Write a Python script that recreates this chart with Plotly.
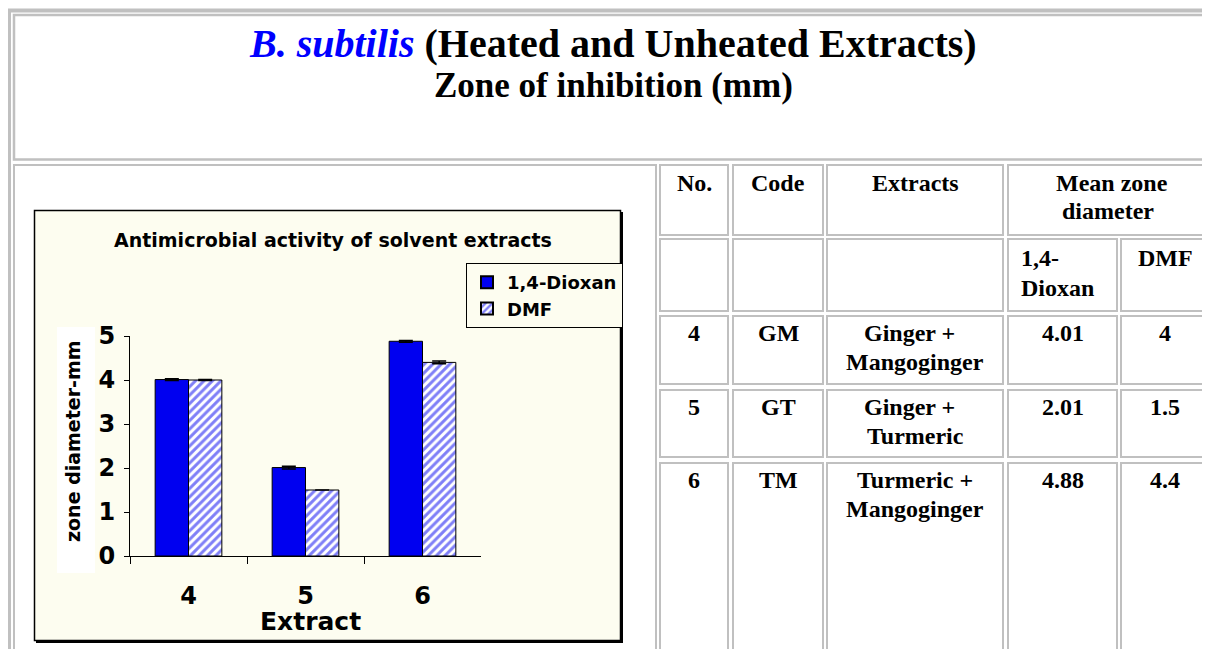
import plotly.graph_objects as go

# ---- data ----
extract_no = ["4", "5", "6"]
codes = ["GM", "GT", "TM"]
extract_names = [["Ginger +", "Mangoginger"], ["Ginger +", "Turmeric"], ["Turmeric +", "Mangoginger"]]
dioxan = [4.01, 2.01, 4.88]
dmf = [4.0, 1.5, 4.4]
dioxan_err = [0.02, 0.03, 0.02]
dmf_err = [0.01, 0.0, 0.03]
series_names = ["1,4-Dioxan", "DMF"]

# page body has an 8px margin: figure fits the rest of the window
OFF = 8
W, H = 1210 - OFF, 649 - OFF
def X(p):
    return (p - OFF) / W
def Y(p):
    return 1 - (p - OFF) / H

BLUE = "#0000f0"
IVORY = "#fdfdf0"
GRAY = "#c0c0c0"
SANS = "DejaVu Sans"
SERIF = "Liberation Serif"

fig = go.Figure()
fig.add_trace(go.Bar(
    x=extract_no, y=dioxan, name=series_names[0],
    marker=dict(color=BLUE, line=dict(color="black", width=1)),
    error_y=dict(type="data", array=dioxan_err, color="black", thickness=1.5, width=7),
))
fig.add_trace(go.Bar(
    x=extract_no, y=dmf, name=series_names[1],
    marker=dict(color="white", line=dict(color="black", width=1),
                pattern=dict(shape="/", fgcolor=BLUE, bgcolor="white", size=6, solidity=0.5)),
    error_y=dict(type="data", array=dmf_err, color="black", thickness=1.5, width=7),
))

shapes = []
def rect(x0, y0, x1, y1, color=GRAY, width=2, fill=None, layer="below"):
    d = dict(type="rect", xref="paper", yref="paper", x0=X(x0), x1=X(x1), y0=Y(y1), y1=Y(y0),
             line=dict(color=color, width=width), layer=layer)
    if fill:
        d["fillcolor"] = fill
    if width == 0:
        d["line"] = dict(width=0)
    shapes.append(d)

# outer table frame
rect(9, 10.5, 1260, 700, width=4)
# title cell
rect(14, 15, 1240, 159.5, width=2.5)
# chart cell
rect(14, 165, 656, 700)
# table cells
cols = [(660, 728), (733, 823), (827, 1003)]
rows = [(165, 235), (239, 311), (316, 384), (390, 457), (463, 700)]
for (c0, c1) in cols:
    for (r0, r1) in rows:
        rect(c0, r0, c1, r1)
# mean zone diameter cells
rect(1008, 165, 1240, 235)
for (r0, r1) in rows[1:]:
    rect(1008, r0, 1117, r1)
    rect(1121, r0, 1240, r1)

# chart box with shadow
rect(36, 212, 623, 643, color="black", width=0, fill="black")
rect(34.5, 210.5, 620.5, 640.5, color="black", width=1.5, fill=IVORY)
# white rect behind y title
rect(57, 327, 95, 573, width=0, fill="white")

ann = []
def text(x, y, s, size, family=SERIF, anchor="center", color="black", angle=0):
    ann.append(dict(x=X(x), y=Y(y), xref="paper", yref="paper", text=s, showarrow=False,
                    xanchor=anchor, yanchor="middle", textangle=angle,
                    font=dict(family=family, size=size, color=color, weight="bold")))

# page title
text(613, 44, "<i><span style='color:#0000ff'>B. subtilis</span></i> (Heated and Unheated Extracts)", 40)
text(613, 86, "Zone of inhibition (mm)", 35)

# chart texts
text(333, 240, "Antimicrobial activity of solvent extracts", 19, family=SANS)
text(73, 441, "zone diameter-mm", 19, family=SANS, angle=-90)
text(310, 621, "Extract", 25, family=SANS)

# table texts
TS = 24
text(694, 183, "No.", TS)
text(778, 183, "Code", TS)
text(915, 183, "Extracts", TS)
text(1112, 183, "Mean zone", TS)
text(1108, 211, "diameter", TS)
text(1019, 258, "1,4-", TS, anchor="left")
text(1019, 288, "Dioxan", TS, anchor="left")
text(1136, 258, "DMF", TS, anchor="left")
row_tops = [333, 407, 480]
for i in range(3):
    y0 = row_tops[i]
    text(694, y0, extract_no[i], TS)
    text(778, y0, codes[i], TS)
    first = extract_names[i][0]
    text(909 if first.startswith("Ginger") else 915, y0, first, TS)
    text(915, y0 + 29, extract_names[i][1], TS)
    text(1063, y0, f"{dioxan[i]:g}", TS)
    text(1165, y0, f"{dmf[i]:g}", TS)

fig.update_layout(
    width=W, height=H, margin=dict(l=0, r=0, t=0, b=0, autoexpand=False),
    paper_bgcolor="white", plot_bgcolor="rgba(0,0,0,0)",
    barmode="group", bargap=0.43, bargroupgap=0,
    showlegend=True,
    legend=dict(x=X(466), y=Y(263), xanchor="left", yanchor="top",
                bgcolor=IVORY, bordercolor="black", borderwidth=1,
                font=dict(family=SANS, size=18, color="black", weight="bold"),
                itemsizing="constant", tracegroupgap=0),
    shapes=shapes, annotations=ann,
    xaxis=dict(domain=[X(130), X(481)], showline=True, linecolor="black", linewidth=1,
               ticks="outside", tickson="boundaries", ticklen=7, tickcolor="black",
               ticklabelstandoff=18, showgrid=False, zeroline=False, automargin=False,
               tickfont=dict(family=SANS, size=24, color="black", weight="bold")),
    yaxis=dict(domain=[Y(556), Y(336)], range=[0, 5], dtick=1, showline=True, linecolor="black",
               linewidth=1, ticks="outside", ticklen=5, tickcolor="black", showgrid=False,
               zeroline=False, ticklabelstandoff=4, automargin=False,
               tickfont=dict(family=SANS, size=24, color="black", weight="bold")),
)

fig.write_html("out.html")
